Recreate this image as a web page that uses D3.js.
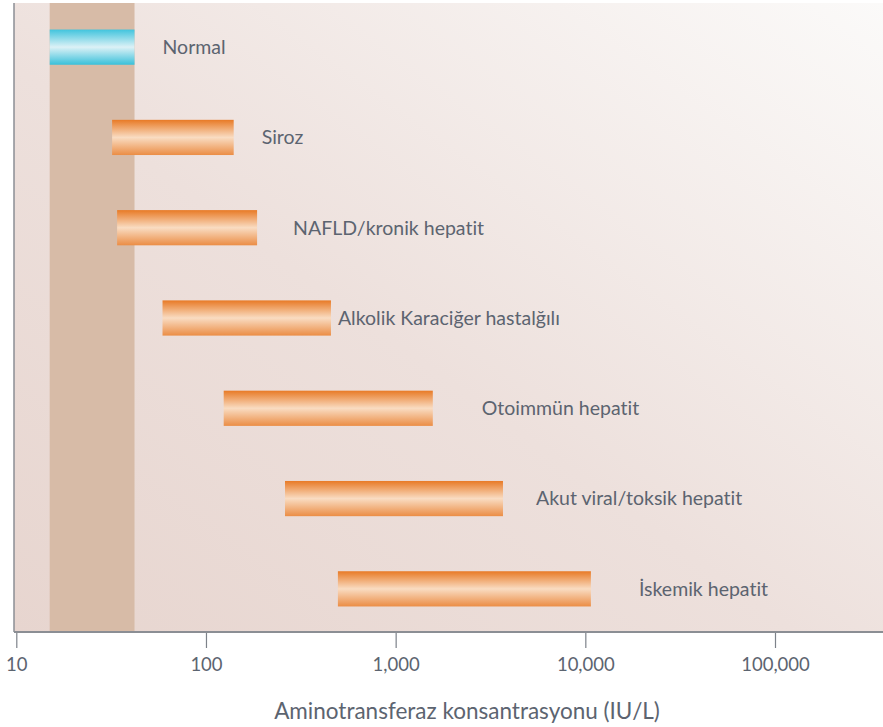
<!DOCTYPE html>
<html>
<head>
<meta charset="utf-8">
<script src="https://cdn.jsdelivr.net/npm/d3@7"></script>
<style>
  html, body { margin: 0; padding: 0; background: #ffffff; }
  svg { display: block; font-family: Lato, "Open Sans", sans-serif; font-variant-ligatures: none; }
</style>
</head>
<body>
<svg id="chart"></svg>
<script>
// data
let categories = ['Normal', 'Siroz', 'NAFLD/kronik hepatit', 'Alkolik Karaciğer hastalğılı',
                  'Otoimmün hepatit', 'Akut viral/toksik hepatit', 'İskemik hepatit'];
let lowValues  = [15, 32, 34, 59, 124, 261, 496];
let highValues = [42, 140, 186, 456, 1570, 3680, 10700];
let normalRange = [15, 42];
let tickValues = [10, 100, 1000, 10000, 100000];
let axisTitle = 'Aminotransferaz konsantrasyonu (IU/L)';

// layout (not data)
let width = 883;
let height = 727;
let plotLeft = 14, plotRight = 883, plotTop = 3, plotBottom = 632;
let labelDx = [28, 28, 36, 7, 49, 33, 48];

let svg = d3.select('#chart').attr('width', width).attr('height', height);

let xScale = d3.scaleLog()
    .domain([10, 100000])
    .range([16.3, 775]);

let yScale = d3.scaleBand()
    .domain(categories)
    .range([2, 634])
    .paddingInner(0.61)
    .paddingOuter(0.305);

let defs = svg.append('defs');

let bg = defs.append('linearGradient')
    .attr('id', 'bg')
    .attr('x1', '0%').attr('y1', '100%')
    .attr('x2', '100%').attr('y2', '0%');
bg.append('stop').attr('offset', '0%').attr('stop-color', '#e7d5cf');
bg.append('stop').attr('offset', '45%').attr('stop-color', '#ede0dc');
bg.append('stop').attr('offset', '100%').attr('stop-color', '#fbfaf9');

let orange = defs.append('linearGradient')
    .attr('id', 'orange')
    .attr('x1', 0).attr('y1', 0).attr('x2', 0).attr('y2', 1);
orange.append('stop').attr('offset', '0%').attr('stop-color', '#e87a26');
orange.append('stop').attr('offset', '50%').attr('stop-color', '#f9dcc2');
orange.append('stop').attr('offset', '100%').attr('stop-color', '#eb8d45');

let blue = defs.append('linearGradient')
    .attr('id', 'blue')
    .attr('x1', 0).attr('y1', 0).attr('x2', 0).attr('y2', 1);
blue.append('stop').attr('offset', '0%').attr('stop-color', '#41c4dd');
blue.append('stop').attr('offset', '50%').attr('stop-color', '#dcf1f6');
blue.append('stop').attr('offset', '100%').attr('stop-color', '#38c0da');

// plot background
svg.append('rect')
    .attr('x', plotLeft)
    .attr('y', plotTop)
    .attr('width', plotRight - plotLeft)
    .attr('height', plotBottom - plotTop)
    .attr('fill', 'url(#bg)');

// normal band
svg.append('rect')
    .attr('x', xScale(normalRange[0]))
    .attr('y', plotTop)
    .attr('width', xScale(normalRange[1]) - xScale(normalRange[0]))
    .attr('height', plotBottom - plotTop)
    .attr('fill', '#d7bba7');

// bars
svg.selectAll('rect.bar')
    .data(categories)
    .enter()
    .append('rect')
    .attr('class', 'bar')
    .attr('x', (d, i) => xScale(lowValues[i]))
    .attr('y', d => yScale(d))
    .attr('width', (d, i) => xScale(highValues[i]) - xScale(lowValues[i]))
    .attr('height', yScale.bandwidth())
    .attr('fill', (d, i) => i === 0 ? 'url(#blue)' : 'url(#orange)');

// labels
svg.selectAll('text.label')
    .data(categories)
    .enter()
    .append('text')
    .attr('class', 'label')
    .attr('x', (d, i) => xScale(highValues[i]) + labelDx[i])
    .attr('y', d => yScale(d) + yScale.bandwidth() / 2)
    .attr('dy', '0.35em')
    .attr('fill', '#5c6470')
    .style('font-size', '19.5px')
    .text(d => d);

// left line
svg.append('line')
    .attr('x1', plotLeft).attr('x2', plotLeft)
    .attr('y1', plotTop).attr('y2', plotBottom)
    .attr('stroke', '#8b8e94')
    .attr('stroke-width', 1.5);

// x axis
let xAxis = d3.axisBottom(xScale)
    .tickValues(tickValues)
    .tickFormat(d3.format(','))
    .tickSize(16)
    .tickPadding(10);

let gx = svg.append('g')
    .attr('transform', 'translate(0,' + plotBottom + ')')
    .call(xAxis);
gx.select('.domain').remove();
gx.append('line')
    .attr('x1', plotLeft).attr('x2', plotRight)
    .attr('y1', 0).attr('y2', 0)
    .attr('stroke', '#8b8e94')
    .attr('stroke-width', 2);
gx.selectAll('.tick line').attr('stroke', '#7d828a').attr('stroke-width', 1.2);
gx.selectAll('.tick text')
    .attr('fill', '#5c6470')
    .style('font-size', '18.5px')
    .style('font-family', 'Lato, "Open Sans", sans-serif');

svg.append('text')
    .attr('x', 467)
    .attr('y', 719)
    .attr('text-anchor', 'middle')
    .attr('fill', '#5c6470')
    .style('font-size', '22.5px')
    .text(axisTitle);
</script>
</body>
</html>
